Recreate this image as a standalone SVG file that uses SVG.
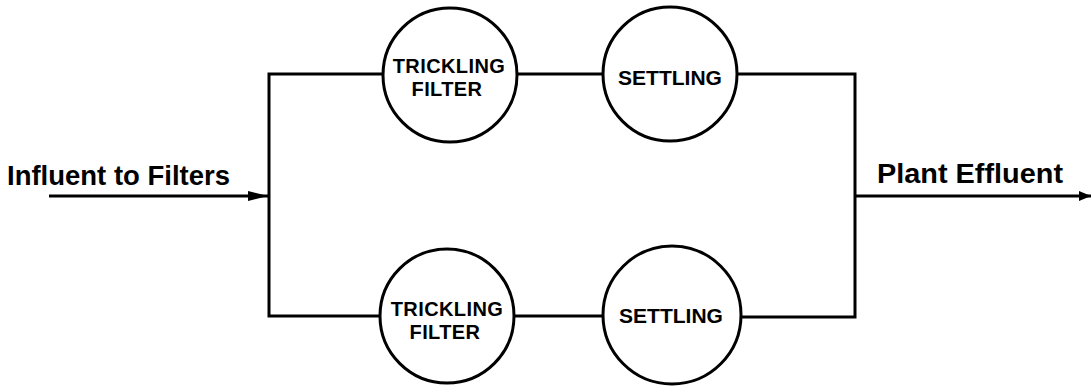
<svg xmlns="http://www.w3.org/2000/svg" width="1092" height="390" viewBox="0 0 1092 390">
<style>
.ln{fill:none;stroke:#000;stroke-width:3}
.nd{fill:#fff;stroke:#000;stroke-width:3}
.nt{font-family:"Liberation Sans",Arial,sans-serif;font-weight:bold;font-size:21px;fill:#000;text-anchor:middle}
.ns{font-size:20px;letter-spacing:0.4px}
.lb{font-family:"Liberation Sans",Arial,sans-serif;font-weight:bold;font-size:27px;fill:#000}
</style>
<defs>
<marker id="ah1" markerUnits="userSpaceOnUse" markerWidth="22" markerHeight="12" refX="20" refY="6" orient="auto">
<path d="M0,1 L20,6 L0,11 Z" fill="#000"/>
</marker>
<marker id="ah2" markerUnits="userSpaceOnUse" markerWidth="14" markerHeight="12" refX="12" refY="6" orient="auto">
<path d="M0,1 L12,6 L0,11 Z" fill="#000"/>
</marker>
</defs>
<rect width="1092" height="390" fill="#fff"/>
<g id="connectors">
<path class="ln" d="M384,74 H269 V316 H381"/>
<path class="ln" d="M516,74 H604"/>
<path class="ln" d="M513,316 H604"/>
<path class="ln" d="M736,74 H855 V317 H739"/>
<path class="ln" d="M49,196 H268" marker-end="url(#ah1)"/>
<path class="ln" d="M855,196 H1091" marker-end="url(#ah2)"/>
</g>
<g id="label-influent"><text class="lb" x="7" y="185" textLength="223" lengthAdjust="spacingAndGlyphs">Influent to Filters</text></g>
<g id="label-effluent"><text class="lb" x="877" y="183" textLength="186" lengthAdjust="spacingAndGlyphs">Plant Effluent</text></g>
<g id="tf1">
<circle class="nd" cx="450" cy="75" r="67"/>
<text class="nt ns" x="449" y="73">TRICKLING</text>
<text class="nt ns" x="447" y="96" letter-spacing="1.5">FILTER</text>
</g>
<g id="st1">
<circle class="nd" cx="670" cy="74" r="67"/>
<text class="nt" x="670" y="85">SETTLING</text>
</g>
<g id="tf2">
<circle class="nd" cx="447" cy="316" r="67"/>
<text class="nt ns" x="447" y="316">TRICKLING</text>
<text class="nt ns" x="445" y="339" letter-spacing="1.5">FILTER</text>
</g>
<g id="st2">
<circle class="nd" cx="672" cy="315" r="69"/>
<text class="nt" x="671" y="323">SETTLING</text>
</g>
</svg>
